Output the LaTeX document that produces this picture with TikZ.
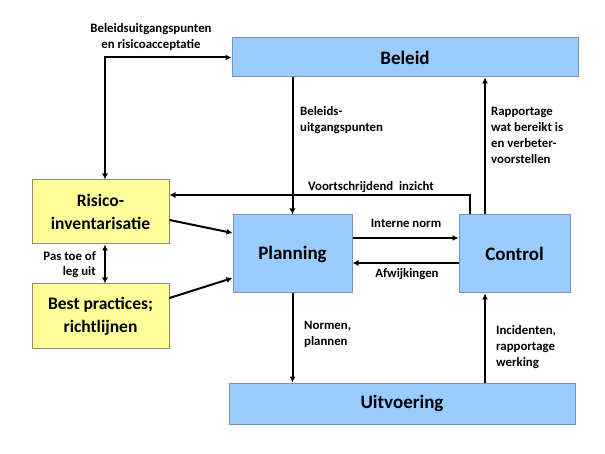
\documentclass[tikz,border=0pt]{standalone}
\usepackage{fontspec}
\setmainfont{Carlito}
\usetikzlibrary{arrows.meta,calc}
\definecolor{bluefill}{HTML}{99CCFF}
\definecolor{blueedge}{HTML}{7A96B4}
\definecolor{yelfill}{HTML}{FFFF99}
\definecolor{yeledge}{HTML}{8C8C7A}
\tikzset{
  bbox/.style={draw=blueedge, fill=bluefill, line width=1pt, inner sep=0pt, align=center,
     font=\fontsize{19}{22}\selectfont\bfseries},
  ybox/.style={draw=yeledge, fill=yelfill, line width=1pt, inner sep=0pt, align=center,
     font=\fontsize{17.5}{23}\selectfont\bfseries},
  lbl/.style={font=\fontsize{12.8}{16}\selectfont\bfseries, inner sep=0pt},
  arr/.style={line width=2pt, -{Latex[length=6pt,width=6pt]}},
  dblarr/.style={line width=2pt, {Latex[length=6pt,width=6pt]}-{Latex[length=6pt,width=6pt]}},
}
\begin{document}
\begin{tikzpicture}[x=1pt,y=-1pt]
\useasboundingbox (0,0) rectangle (605,454);
\fill[white] (0,0) rectangle (605,454);
% boxes
\node[bbox, minimum width=346pt, minimum height=39pt] (beleid) at (405,57.5) {Beleid};
\node[ybox, minimum width=137pt, minimum height=64pt] (risico) at (100.5,212) {Risico-\\inventarisatie};
\node[ybox, minimum width=137pt, minimum height=64pt] (best) at (100.5,316) {Best practices;\\richtlijnen};
\node[bbox, minimum width=119pt, minimum height=78pt] (planning) at (292.5,254) {Planning};
\node[bbox, minimum width=111pt, minimum height=78pt] (control) at (514.5,254) {Control};
\node[bbox, minimum width=346pt, minimum height=41pt] (uitv) at (402,403.5) {Uitvoering};
% helper coordinates
\coordinate (c1) at ([xshift=-29.5pt]control.north);
\coordinate (c2) at ([xshift=-44.5pt]control.north);
\coordinate (r1) at ([yshift=17pt]risico.east);
\coordinate (rn) at ([xshift=4.5pt]risico.north);
\coordinate (rs) at ([xshift=4.5pt]risico.south);
\coordinate (bn) at ([xshift=4.5pt]best.north);
\coordinate (pin) at ([yshift=16pt]planning.east);
\coordinate (caf) at ([yshift=-9pt]control.west);
% connectors
\draw[dblarr] (rn) |- (beleid.west);
\draw[arr] (beleid.south -| planning.north) -- (planning.north);
\draw[arr] (c1) -- (c1 |- beleid.south);
\draw[arr] (c2) |- (r1);
\draw[arr] ([yshift=-8pt]risico.east) -- ([yshift=21pt]planning.west);
\draw[arr] ([yshift=18pt]best.east) -- ([yshift=-24pt]planning.west);
\draw[dblarr] (rs) -- (bn);
\draw[arr] (pin) -- (pin -| control.west);
\draw[arr] (caf) -- (caf -| planning.east);
\draw[arr] (planning.south) -- (planning.south |- uitv.north);
\draw[arr] (c1 |- uitv.north) -- (c1 |- control.south);
% labels
\node[lbl, align=center] (l1) at (151,37) {Beleidsuitgangspunten\\en risicoacceptatie};
\node[lbl, align=left, anchor=west] (l2) at (300,120.5) {Beleids-\\uitgangspunten};
\node[lbl, align=left, anchor=west] (l3) at (491,135.5) {Rapportage\\wat bereikt is\\en verbeter-\\voorstellen};
\node[lbl] (l4) at (371,187) {Voortschrijdend\ \ inzicht};
\node[lbl] (l5) at (406,223) {Interne norm};
\node[lbl] (l6) at (407,274) {Afwijkingen};
\node[lbl, align=right, anchor=east, font=\fontsize{12.8}{15}\selectfont\bfseries] (l7) at (96,264.5) {Pas toe of\\leg uit};
\node[lbl, align=left, anchor=west] (l8) at (304,334) {Normen,\\plannen};
\node[lbl, align=left, anchor=west] (l9) at (496,347) {Incidenten,\\rapportage\\werking};
\end{tikzpicture}
\end{document}
